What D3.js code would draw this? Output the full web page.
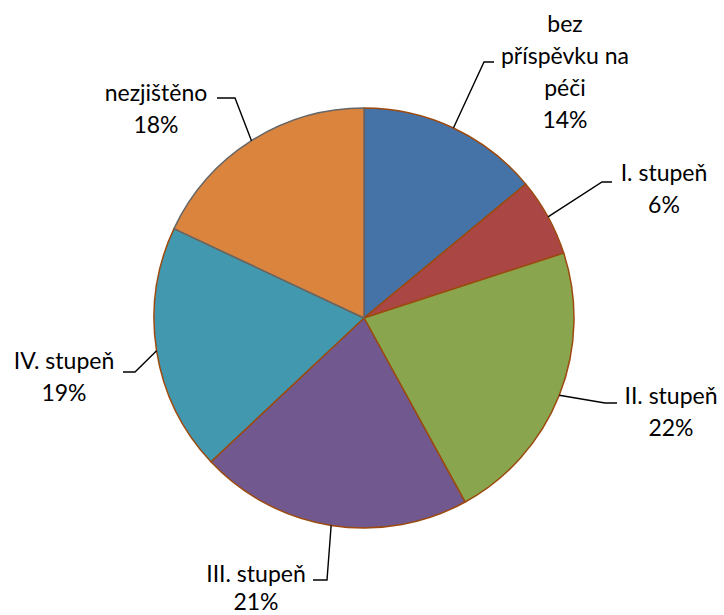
<!DOCTYPE html>
<html>
<head>
<meta charset="utf-8">
<script src="https://cdn.jsdelivr.net/npm/d3@7"></script>
<style>
  body { margin: 0; background: #fff; }
  text { font-family: Lato, "Open Sans", sans-serif; font-size: 23px; fill: #000; }
</style>
</head>
<body>
<div id="chart"></div>
<script>
const categories = ["bez příspěvku na péči", "I. stupeň", "II. stupeň", "III. stupeň", "IV. stupeň", "nezjištěno"];
const shares = [14, 6, 22, 21, 19, 18];
const colors = ["#4572A7", "#AA4643", "#89A54E", "#71588F", "#4198AF", "#DB843D"];

// label layout: text lines, text centre / first baseline, leader elbow
const labelLines = [
  ["bez", "příspěvku na", "péči", "14%"],
  ["I. stupeň", "6%"],
  ["II. stupeň", "22%"],
  ["III. stupeň", "21%"],
  ["IV. stupeň", "19%"],
  ["nezjištěno", "18%"]
];
const labelPos = [
  {x: 565, y: 32, ex: 484, ey: 62, hx: 494},
  {x: 664, y: 181, ex: 602, ey: 182, hx: 612},
  {x: 671, y: 404, ex: 605, ey: 403, hx: 617},
  {x: 256, y: 582, ex: 327, ey: 580, hx: 313},
  {x: 64, y: 369, ex: 135, ey: 372, hx: 123},
  {x: 156, y: 101, ex: 235, ey: 98, hx: 217}
];

const width = 724, height = 615;
const cx = 364, cy = 318, r = 210;
const lineH = 32;

const svg = d3.select("#chart").append("svg")
  .attr("width", width)
  .attr("height", height);

const data = categories.map((c, i) => ({name: c, value: shares[i], i: i}));

const pie = d3.pie().sort(null).value(d => d.value);
const arcs = pie(data);
const arc = d3.arc().innerRadius(0).outerRadius(r);
const edgeArc = d3.arc().innerRadius(r).outerRadius(r);

const g = svg.append("g").attr("transform", "translate(" + cx + "," + cy + ")");

g.selectAll("path.slice")
  .data(arcs)
  .enter().append("path")
  .attr("class", "slice")
  .attr("d", arc)
  .attr("fill", (d, i) => colors[i])
  .attr("stroke", (d, i) => i == 5 ? "#666666" : "#9C4A0E")
  .attr("stroke-width", 1.5)
  .attr("stroke-linejoin", "round");

// leader lines
svg.selectAll("polyline.leader")
  .data(arcs)
  .enter().append("polyline")
  .attr("class", "leader")
  .attr("fill", "none")
  .attr("stroke", "#000")
  .attr("stroke-width", 1.4)
  .attr("points", function(d, i) {
    const c = edgeArc.centroid(d);
    const p = labelPos[i];
    return [[cx + c[0], cy + c[1]], [p.ex, p.ey], [p.hx, p.ey]].map(q => q.join(",")).join(" ");
  });

// labels
const labels = svg.selectAll("text.lbl")
  .data(arcs)
  .enter().append("text")
  .attr("class", "lbl")
  .attr("text-anchor", "middle")
  .attr("x", (d, i) => labelPos[i].x)
  .attr("y", (d, i) => labelPos[i].y);

labels.each(function(d, i) {
  d3.select(this).selectAll("tspan")
    .data(labelLines[i])
    .enter().append("tspan")
    .attr("x", labelPos[i].x)
    .attr("dy", (t, j) => j == 0 ? 0 : (i == 3 ? 28 : lineH))
    .text(t => t);
});
</script>
</body>
</html>
